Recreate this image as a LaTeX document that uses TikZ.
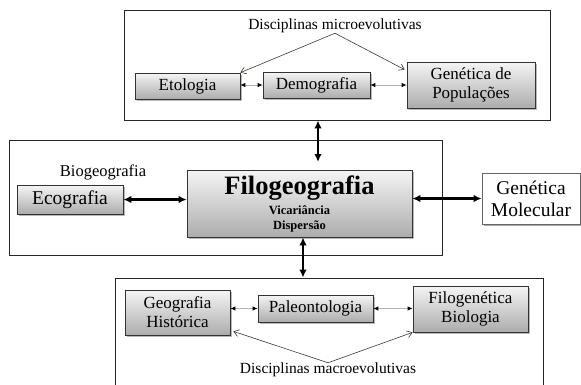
\documentclass[tikz,border=0pt]{standalone}
\usepackage{fontspec}
\setmainfont{Liberation Serif}
\usetikzlibrary{arrows.meta, shadows}

\begin{document}
\begin{tikzpicture}[x=1pt, y=-1pt,
    frame/.style={draw=black!85, line width=0.8pt, inner sep=0pt},
    box/.style={draw=black!80, line width=0.7pt, top color=gray!8, bottom color=gray!65,
        drop shadow={shadow xshift=2pt, shadow yshift=-2pt, opacity=0.55},
        align=center, inner sep=0pt, font=\rmfamily\fontsize{17}{19}\selectfont},
    plain/.style={inner sep=0pt, font=\rmfamily\fontsize{15.5}{18}\selectfont},
    bigarrow/.style={line width=2.2pt, {Latex[length=8pt,width=7.5pt]}-{Latex[length=8pt,width=7.5pt]}},
    smallarrow/.style={draw=gray!60, line width=0.8pt,
        {Latex[black,length=5pt,width=4.5pt]}-{Latex[black,length=5pt,width=4.5pt]}},
    pointer/.style={draw=black!75!olive, line width=0.6pt, -{Straight Barb[length=5pt,width=7pt]}}]
    \useasboundingbox (0,0) rectangle (581,384);

    \node[frame, minimum width=426pt, minimum height=110pt] (topframe) at (337,65) {};
    \node[frame, minimum width=433pt, minimum height=115pt] (midframe) at (225.5,197.5) {};
    \node[frame, minimum width=428pt, minimum height=120pt] (botframe) at (329,338) {};

    \node[plain] (micro) at (335,26) {Disciplinas microevolutivas};
    \node[box, minimum width=105pt, minimum height=26pt] (etologia) at (187.5,86) {Etologia};
    \node[box, minimum width=107pt, minimum height=26pt] (demografia) at (316.5,85) {Demografia};
    \node[box, minimum width=128pt, minimum height=46pt] (genpop) at (471,85) {Genética de\\Populações};

    \node[plain, font=\rmfamily\fontsize{16.5}{18}\selectfont] (bio) at (103,172) {Biogeografia};
    \node[box, minimum width=106pt, minimum height=29pt, font=\rmfamily\fontsize{19.5}{21}\selectfont] (eco) at (70,199.5) {Ecografia};
    \node[box, minimum width=225pt, minimum height=67pt, font=\rmfamily\bfseries\fontsize{12.5}{15}\selectfont] (filo) at (299.5,203.5)
        {{\fontsize{26.5}{27}\selectfont Filogeografia}\\[5pt]
         Vicariância\\Dispersão};
    \node[box, top color=white, bottom color=white, draw=black!60,
        drop shadow={shadow xshift=2pt, shadow yshift=-2pt, opacity=0.3},
        minimum width=98pt, minimum height=51pt, font=\rmfamily\fontsize{19.5}{22}\selectfont] (genmol) at (531,198.5) {Genética\\Molecular};

    \node[box, minimum width=105pt, minimum height=45pt] (geo) at (177.5,312.5) {Geografia\\Histórica};
    \node[box, minimum width=115pt, minimum height=27pt] (paleo) at (315.5,308.5) {Paleontologia};
    \node[box, minimum width=115pt, minimum height=46pt] (filobio) at (470.5,309) {Filogenética\\Biologia};
    \node[plain] (macro) at (328,370) {Disciplinas macroevolutivas};

    \coordinate (tiptop) at (318,162);
    \draw[bigarrow] (tiptop |- topframe.south) -- (tiptop);
    \draw[bigarrow] ([xshift=3.5pt]filo.south) -- ([xshift=3.5pt]filo.south |- botframe.north);
    \draw[bigarrow] (eco.east) -- (filo.west |- eco.east);
    \draw[bigarrow] (filo.east |- genmol.west) -- (genmol.west);

    \draw[smallarrow] (etologia.east |- demografia.west) -- (demografia.west);
    \draw[smallarrow] (demografia.east) -- (genpop.west |- demografia.east);
    \draw[smallarrow] (geo.east |- paleo.west) -- (paleo.west);
    \draw[smallarrow] (paleo.east) -- (filobio.west |- paleo.east);

    \draw[pointer] (micro.south) -- (etologia.north east);
    \draw[pointer] (micro.south) -- ([xshift=-2pt, yshift=-8pt]genpop.north west);
    \draw[pointer] (macro.north) -- ([xshift=3pt, yshift=4pt]geo.south east);
    \draw[pointer] (macro.north) -- (filobio.south west);
\end{tikzpicture}
\end{document}
